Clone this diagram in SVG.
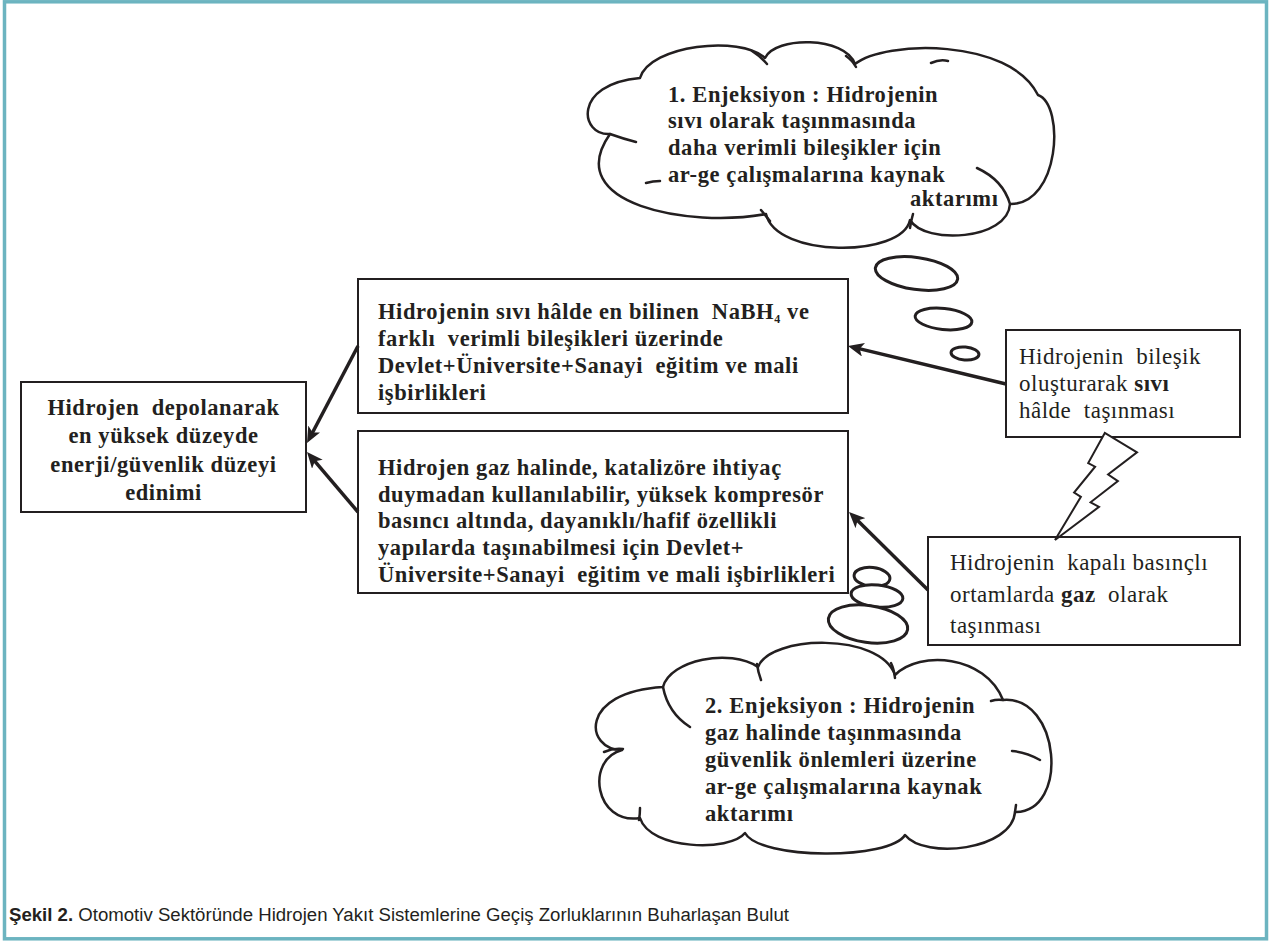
<svg xmlns="http://www.w3.org/2000/svg" width="1270" height="943" viewBox="0 0 1270 943">
<style>
.frame{fill:#fff;stroke:#6cb4c0;stroke-width:3.5}
.box{fill:#fff;stroke:#231f20;stroke-width:2}
.cloud{fill:#fff;stroke:#231f20;stroke-width:2.5;stroke-linejoin:round}
.inner{fill:none;stroke:#231f20;stroke-width:2.5;stroke-linecap:round}
.bub{fill:#fff;stroke:#231f20;stroke-width:3}
.conn{fill:none;stroke:#231f20;stroke-width:3.5;marker-end:url(#ah)}
.bolt{fill:#fff;stroke:#231f20;stroke-width:2;stroke-linejoin:miter}
text{white-space:pre}
.tb{font-family:"Liberation Serif",serif;font-weight:bold;font-size:22.5px;letter-spacing:0.6px;fill:#231f20}
.tr{font-family:"Liberation Serif",serif;font-size:23px;letter-spacing:0.5px;fill:#231f20}
.cap{font-family:"Liberation Sans",Arial,sans-serif;font-size:18px;fill:#231f20}
</style>
<defs>
<marker id="ah" markerUnits="userSpaceOnUse" markerWidth="18" markerHeight="14" refX="10" refY="7" orient="auto" viewBox="0 0 18 14"><path d="M0,0 L16,7 L0,14 L4,7 Z" fill="#231f20"/></marker>
</defs>
<rect x="0" y="0" width="1270" height="943" fill="#fff"/>
<rect class="frame" x="4.5" y="1.8" width="1262" height="937"/>
<g id="cloud-1">
<path class="cloud" d="M 610,134 C 580,136 572,84 640,78 C 650,45 740,35 765,58 C 775,36 845,36 855,64 C 885,40 1010,38 1038,95 C 1065,105 1060,205 1010,204 C 1008,240 925,245 910,220 C 902,258 776,258 766,214 C 690,228 560,205 610,134 Z"/>
<path class="inner" d="M 610,134 Q 624,139 636,142 M 646,183 Q 653,181 660,181 M 752,51 Q 760,56 767,64 M 846,56 Q 852,60 856,67 M 931,63 Q 940,59 948,61 M 977,168 Q 1003,180 1010,204 M 761,210 Q 765,215 770,221 M 913,214 Q 911,221 910,228"/>
<text class="tb" x="668" y="102">1. Enjeksiyon : Hidrojenin</text>
<text class="tb" x="668" y="128">sıvı olarak taşınmasında</text>
<text class="tb" x="668" y="155">daha verimli bileşikler için</text>
<text class="tb" x="668" y="182">ar-ge çalışmalarına kaynak</text>
<text class="tb" x="910" y="206">aktarımı</text>
</g>
<g id="bubbles-1">
<ellipse class="bub" cx="916.5" cy="273.5" rx="41.5" ry="16" transform="rotate(8 916.5 273.5)"/>
<ellipse class="bub" cx="943.5" cy="319" rx="28.5" ry="10.5" transform="rotate(6 943.5 319)"/>
<ellipse class="bub" cx="965" cy="353.5" rx="14" ry="6.5" transform="rotate(5 965 353.5)"/>
</g>
<g id="cloud-2">
<path class="cloud" d="M 622,750 C 585,750 578,692 663,687 C 670,660 730,648 758,667 C 770,635 880,632 895,675 C 920,650 985,655 1003,700 C 1060,695 1070,812 1015,812 C 1012,850 925,860 905,835 C 890,860 760,860 745,833 C 730,852 650,850 640,818 C 595,825 585,760 622,750 Z"/>
<path class="inner" d="M 663,687 Q 668,713 690,727 M 604,752 Q 613,748 623,749 M 640,808 Q 640,814 639,820 M 757,664 Q 758,672 761,680 M 891,663 Q 894,669 895,678 M 991,701 Q 997,699 1003,700 M 1012,751 Q 1026,752 1040,760 M 1016,805 L 1015,812"/>
<text class="tb" x="705" y="713">2. Enjeksiyon : Hidrojenin</text>
<text class="tb" x="705" y="740">gaz halinde taşınmasında</text>
<text class="tb" x="705" y="767">güvenlik önlemleri üzerine</text>
<text class="tb" x="705" y="794">ar-ge çalışmalarına kaynak</text>
<text class="tb" x="705" y="821">aktarımı</text>
</g>
<g id="bubbles-2">
<ellipse class="bub" cx="872" cy="577" rx="18" ry="9.5" transform="rotate(6 872 577)"/>
<ellipse class="bub" cx="877" cy="596" rx="26" ry="11" transform="rotate(6 877 596)"/>
<ellipse class="bub" cx="868" cy="624" rx="40" ry="18.5" transform="rotate(8 868 624)"/>
</g>
<g id="box-goal">
<rect class="box" x="21" y="382" width="285" height="130"/>
<text class="tb" x="163.5" y="415" text-anchor="middle">Hidrojen  depolanarak</text>
<text class="tb" x="163.5" y="443" text-anchor="middle">en yüksek düzeyde</text>
<text class="tb" x="163.5" y="472" text-anchor="middle">enerji/güvenlik düzeyi</text>
<text class="tb" x="163.5" y="500" text-anchor="middle">edinimi</text>
</g>
<g id="box-liquid-action">
<rect class="box" x="358" y="279" width="490" height="134"/>
<text class="tb" x="378" y="319">Hidrojenin sıvı hâlde en bilinen  NaBH<tspan font-size="12px" dy="4">4</tspan><tspan dy="-4"> ve</tspan></text>
<text class="tb" x="378" y="346">farklı  verimli bileşikleri üzerinde</text>
<text class="tb" x="378" y="373">Devlet+Üniversite+Sanayi  eğitim ve mali</text>
<text class="tb" x="378" y="400">işbirlikleri</text>
</g>
<g id="box-gas-action">
<rect class="box" x="358" y="431" width="490" height="162"/>
<text class="tb" x="378" y="475">Hidrojen gaz halinde, katalizöre ihtiyaç</text>
<text class="tb" x="378" y="502">duymadan kullanılabilir, yüksek kompresör</text>
<text class="tb" x="378" y="528">basıncı altında, dayanıklı/hafif özellikli</text>
<text class="tb" x="378" y="555">yapılarda taşınabilmesi için Devlet+</text>
<text class="tb" x="378" y="582">Üniversite+Sanayi  eğitim ve mali işbirlikleri</text>
</g>
<g id="box-liquid">
<rect class="box" x="1006" y="330" width="234" height="107"/>
<text class="tr" x="1019" y="364">Hidrojenin  bileşik</text>
<text class="tr" x="1019" y="391">oluşturarak <tspan font-weight="bold">sıvı</tspan></text>
<text class="tr" x="1019" y="418">hâlde  taşınması</text>
</g>
<g id="box-gas">
<rect class="box" x="928" y="537" width="312" height="108"/>
<text class="tr" x="950" y="570">Hidrojenin  kapalı basınçlı</text>
<text class="tr" x="950" y="602">ortamlarda <tspan font-weight="bold">gaz</tspan>  olarak</text>
<text class="tr" x="950" y="633">taşınması</text>
</g>
<g id="bolt">
<polygon class="bolt" points="1104.8,433 1088.2,463.1 1095.1,466.7 1074.1,492.5 1080.9,496.8 1055,540 1099,506.9 1090.6,502.3 1117.9,481.1 1108.1,474.5 1137,452.3"/>
</g>
<g id="connectors">
<line class="conn" x1="1006" y1="384" x2="853.8" y2="347.4"/>
<line class="conn" x1="928" y1="590" x2="853.3" y2="516.2"/>
<line class="conn" x1="358" y1="346" x2="309.8" y2="437.7"/>
<line class="conn" x1="358" y1="512" x2="310.9" y2="456.6"/>
</g>
<g id="caption">
<text class="cap" x="9" y="921" textLength="780" lengthAdjust="spacingAndGlyphs"><tspan font-weight="bold">Şekil 2.</tspan> Otomotiv Sektöründe Hidrojen Yakıt Sistemlerine Geçiş Zorluklarının Buharlaşan Bulut</text>
</g>
</svg>
